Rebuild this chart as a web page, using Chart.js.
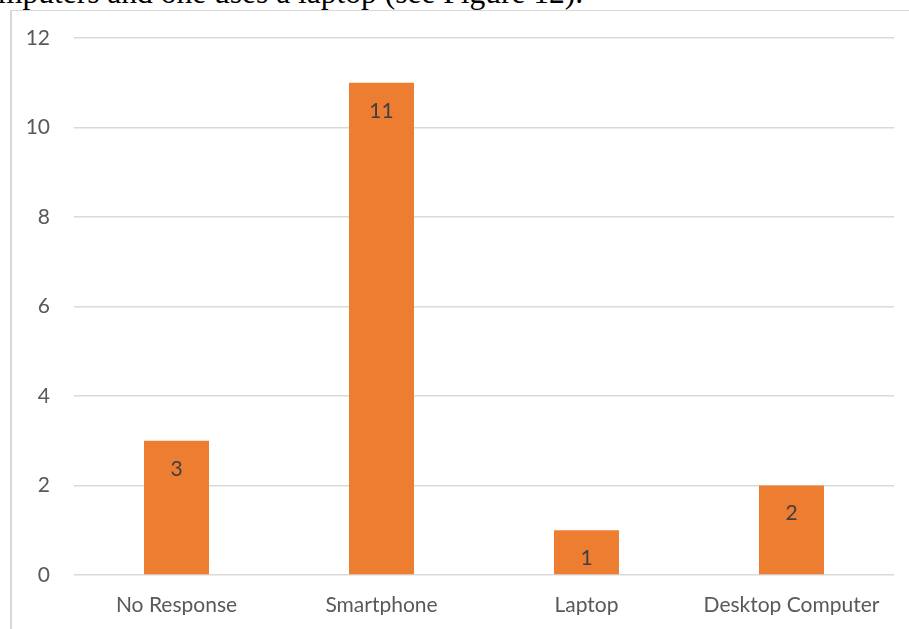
<!DOCTYPE html>
<html>
<head>
<meta charset="utf-8">
<script src="https://cdn.jsdelivr.net/npm/chart.js@4.4.1/dist/chart.umd.min.js"></script>
<style>
  html, body { margin: 0; padding: 0; background: #fff; overflow: hidden; }
  body { width: 909px; height: 629px; position: relative; }
  #texto {
    position: absolute; left: -2px; top: -23px;
    font-family: "Liberation Serif", "Times New Roman", serif;
    font-size: 31.5px; line-height: 31px; color: #000; white-space: nowrap;
  }
  #cornice {
    position: absolute; left: 10px; top: 10px; width: 897px; height: 618px;
    border-left: 2px solid #d9d9d9; border-top: 1px solid #d9d9d9;
  }
</style>
</head>
<body>
<div id="texto">mputers and one uses a laptop (see Figure 12).</div>
<div id="cornice"><canvas id="graficoDispositivi" width="897" height="618"></canvas></div>
<script>
let dispositivi = ['No Response', 'Smartphone', 'Laptop', 'Desktop Computer'];
let risposte = [3, 11, 1, 2];
let tacche = [0, 2, 4, 6, 8, 10, 12];

// scrive il valore dentro la barra, vicino alla cima
const etichetteValori = {
    id: 'etichetteValori',
    afterDatasetsDraw(chart) {
        const ctx = chart.ctx;
        const meta = chart.getDatasetMeta(0);
        ctx.save();
        ctx.font = '21px Lato, sans-serif';
        ctx.fillStyle = '#404040';
        ctx.textAlign = 'center';
        ctx.textBaseline = 'middle';
        meta.data.forEach(function (barra, i) {
            ctx.fillText(String(risposte[i]), barra.x, barra.y + 28);
        });
        ctx.restore();
    }
};

var ctx = document.getElementById('graficoDispositivi');
var myChart = new Chart(ctx, {
    type: 'bar',
    data: {
        labels: dispositivi,
        datasets: [{
            label: 'Dispositivi',
            data: risposte,
            backgroundColor: '#ED7D31',
            borderWidth: 0,
            categoryPercentage: 1,
            barPercentage: 0.317
        }]
    },
    options: {
        responsive: false,
        animation: false,
        layout: { padding: { top: 27, right: 15, left: 0, bottom: 14 } },
        plugins: {
            legend: { display: false },
            tooltip: { enabled: false }
        },
        scales: {
            x: {
                afterFit: function (scale) { scale.height = 40; },
                grid: { display: false, drawTicks: false },
                border: { display: false },
                ticks: {
                    color: '#595959',
                    padding: 18,
                    maxRotation: 0,
                    font: { family: 'Lato', size: 21 }
                }
            },
            y: {
                min: 0,
                max: 12,
                afterBuildTicks: function (scale) {
                    scale.ticks = tacche.map(function (v) { return { value: v }; });
                },
                afterFit: function (scale) {
                    // larghezza fissa, e niente margine extra sopra/sotto per le etichette
                    scale.width = 62;
                    scale.paddingTop = 12;
                    scale.paddingBottom = 12;
                },
                grid: { color: '#d9d9d9', lineWidth: 1.5, drawTicks: false },
                border: { display: false },
                ticks: {
                    color: '#595959',
                    padding: 24,
                    font: { family: 'Lato', size: 21 }
                }
            }
        }
    },
    plugins: [etichetteValori]
});
</script>
</body>
</html>
